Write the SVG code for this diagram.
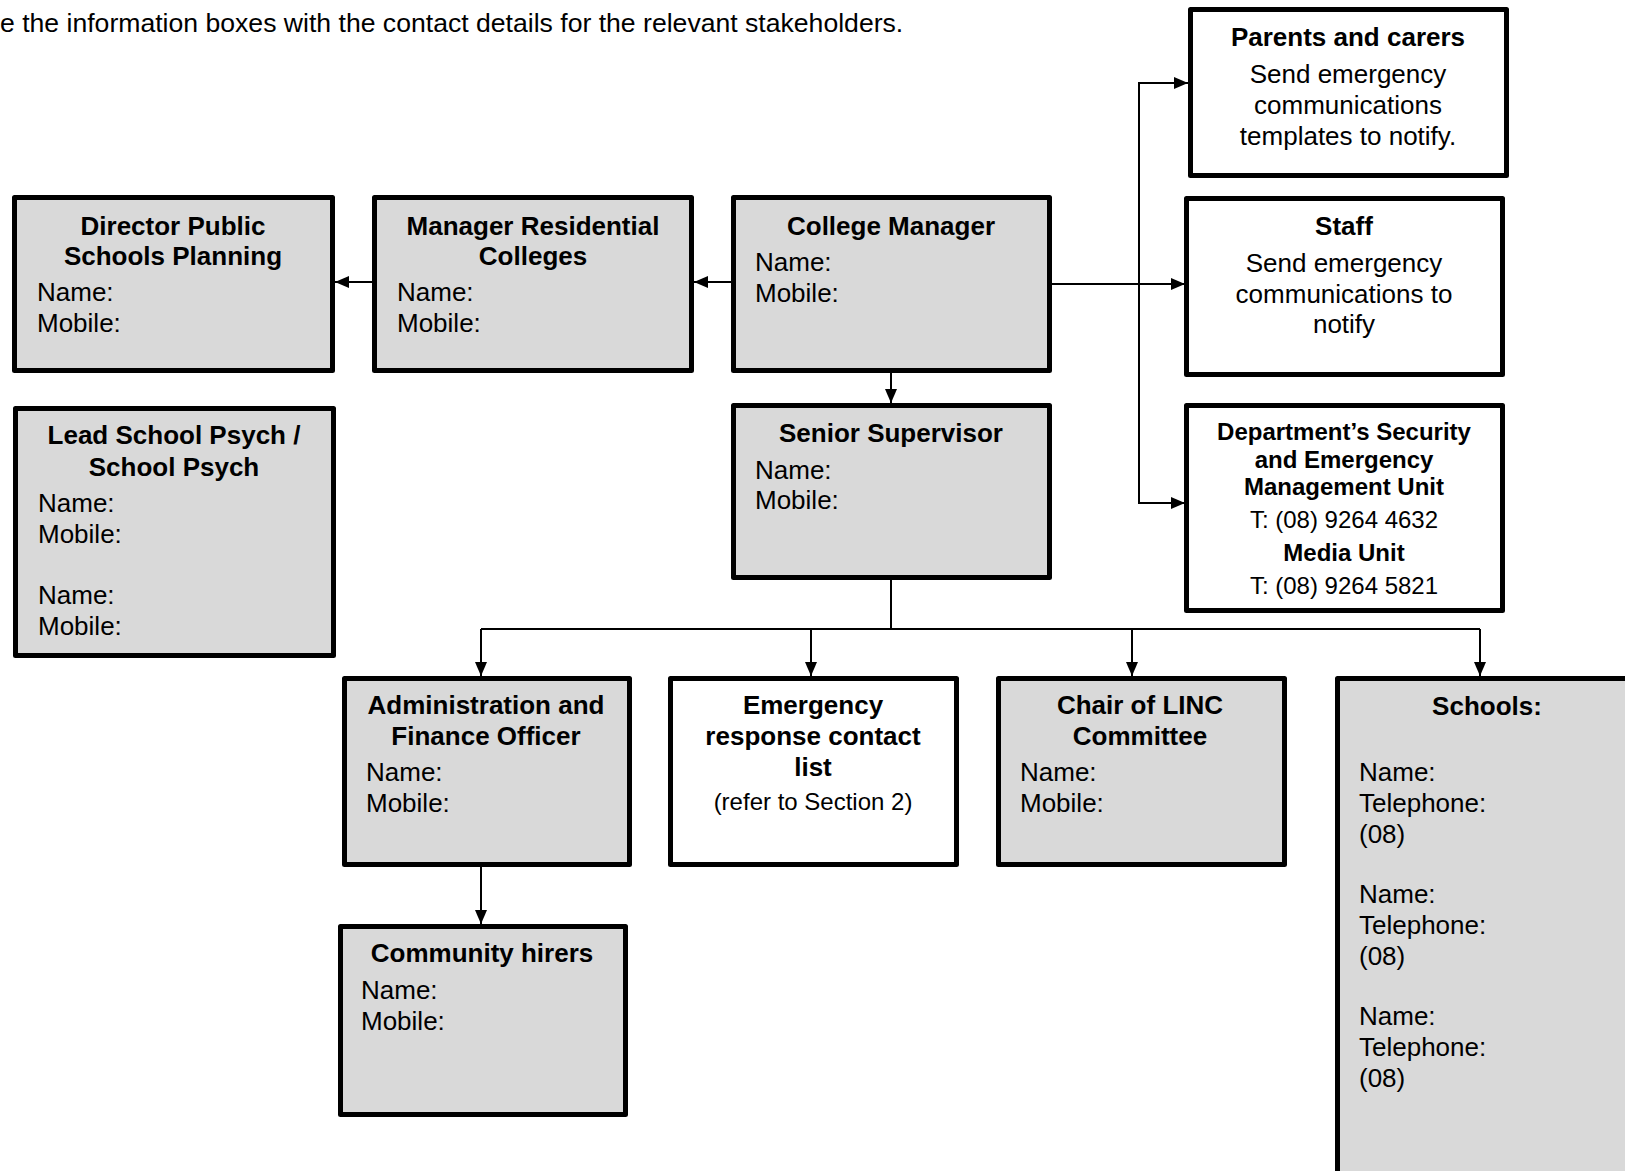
<svg xmlns="http://www.w3.org/2000/svg" width="1625" height="1171" viewBox="0 0 1625 1171">
<style>
.box{stroke:#000;stroke-width:5;stroke-linejoin:round}
.g{fill:#d9d9d9}
.w{fill:#fff}
text{font-family:"Liberation Sans",Arial,sans-serif;fill:#000}
.t{font-size:26px;font-weight:bold;text-anchor:middle}
.b{font-size:26px}
.c{font-size:26px;text-anchor:middle}
.st{font-size:24px;font-weight:bold;text-anchor:middle}
.sb{font-size:24px;text-anchor:middle}
.con{stroke:#000;stroke-width:2;fill:none}
</style>
<defs>
<marker id="ah" viewBox="0 0 14 12" refX="14" refY="6" markerWidth="14" markerHeight="12" markerUnits="userSpaceOnUse" orient="auto">
<path d="M0,0 L14,6 L0,12 Z" fill="#000"/>
</marker>
</defs>
<rect width="1625" height="1171" fill="#fff"/>
<text x="0" y="32" style="font-size:26.6px">e the information boxes with the contact details for the relevant stakeholders.</text>

<g id="connectors">
<line class="con" x1="731" y1="282" x2="694" y2="282" marker-end="url(#ah)"/>
<line class="con" x1="373" y1="282" x2="335" y2="282" marker-end="url(#ah)"/>
<line class="con" x1="1052" y1="284" x2="1185" y2="284" marker-end="url(#ah)"/>
<polyline class="con" points="1187,83 1139,83 1139,503 1185,503"/>
<line class="con" x1="1139" y1="83" x2="1188" y2="83" marker-end="url(#ah)"/>
<line class="con" x1="1139" y1="503" x2="1185" y2="503" marker-end="url(#ah)"/>
<line class="con" x1="891" y1="373" x2="891" y2="403" marker-end="url(#ah)"/>
<line class="con" x1="891" y1="580" x2="891" y2="629"/>
<line class="con" x1="481" y1="629" x2="1480" y2="629"/>
<line class="con" x1="481" y1="629" x2="481" y2="676" marker-end="url(#ah)"/>
<line class="con" x1="811" y1="629" x2="811" y2="676" marker-end="url(#ah)"/>
<line class="con" x1="1132" y1="629" x2="1132" y2="676" marker-end="url(#ah)"/>
<line class="con" x1="1480" y1="629" x2="1480" y2="676" marker-end="url(#ah)"/>
<line class="con" x1="481" y1="866" x2="481" y2="924" marker-end="url(#ah)"/>
</g>

<g id="parents">
<rect class="box w" x="1190.5" y="9.5" width="316" height="166"/>
<text class="t" x="1348" y="46">Parents and carers</text>
<text class="c" x="1348" y="83">Send emergency</text>
<text class="c" x="1348" y="114">communications</text>
<text class="c" x="1348" y="145">templates to notify.</text>
</g>

<g id="staff">
<rect class="box w" x="1186.5" y="198.5" width="316" height="176"/>
<text class="t" x="1344" y="235">Staff</text>
<text class="c" x="1344" y="272">Send emergency</text>
<text class="c" x="1344" y="303">communications to</text>
<text class="c" x="1344" y="333">notify</text>
</g>

<g id="dept">
<rect class="box w" x="1186.5" y="405.5" width="316" height="205"/>
<text class="st" x="1344" y="440">Department’s Security</text>
<text class="st" x="1344" y="468">and Emergency</text>
<text class="st" x="1344" y="495">Management Unit</text>
<text class="sb" x="1344" y="528">T: (08) 9264 4632</text>
<text class="st" x="1344" y="561">Media Unit</text>
<text class="sb" x="1344" y="594">T: (08) 9264 5821</text>
</g>

<g id="director">
<rect class="box g" x="14.5" y="197.5" width="318" height="173"/>
<text class="t" x="173" y="235">Director Public</text>
<text class="t" x="173" y="265">Schools Planning</text>
<text class="b" x="37" y="301">Name:</text>
<text class="b" x="37" y="332">Mobile:</text>
</g>

<g id="manager-rc">
<rect class="box g" x="374.5" y="197.5" width="317" height="173"/>
<text class="t" x="533" y="235">Manager Residential</text>
<text class="t" x="533" y="265">Colleges</text>
<text class="b" x="397" y="301">Name:</text>
<text class="b" x="397" y="332">Mobile:</text>
</g>

<g id="college-manager">
<rect class="box g" x="733.5" y="197.5" width="316" height="173"/>
<text class="t" x="891" y="235">College Manager</text>
<text class="b" x="755" y="271">Name:</text>
<text class="b" x="755" y="302">Mobile:</text>
</g>

<g id="senior-supervisor">
<rect class="box g" x="733.5" y="405.5" width="316" height="172"/>
<text class="t" x="891" y="442">Senior Supervisor</text>
<text class="b" x="755" y="479">Name:</text>
<text class="b" x="755" y="509">Mobile:</text>
</g>

<g id="lead-psych">
<rect class="box g" x="15.5" y="408.5" width="318" height="247"/>
<text class="t" x="174" y="444">Lead School Psych /</text>
<text class="t" x="174" y="476">School Psych</text>
<text class="b" x="38" y="512">Name:</text>
<text class="b" x="38" y="543">Mobile:</text>
<text class="b" x="38" y="604">Name:</text>
<text class="b" x="38" y="635">Mobile:</text>
</g>

<g id="admin">
<rect class="box g" x="344.5" y="678.5" width="285" height="186"/>
<text class="t" x="486" y="714">Administration and</text>
<text class="t" x="486" y="745">Finance Officer</text>
<text class="b" x="366" y="781">Name:</text>
<text class="b" x="366" y="812">Mobile:</text>
</g>

<g id="emergency">
<rect class="box w" x="670.5" y="678.5" width="286" height="186"/>
<text class="t" x="813" y="714">Emergency</text>
<text class="t" x="813" y="745">response contact</text>
<text class="t" x="813" y="776">list</text>
<text class="sb" x="813" y="810">(refer to Section 2)</text>
</g>

<g id="chair-linc">
<rect class="box g" x="998.5" y="678.5" width="286" height="186"/>
<text class="t" x="1140" y="714">Chair of LINC</text>
<text class="t" x="1140" y="745">Committee</text>
<text class="b" x="1020" y="781">Name:</text>
<text class="b" x="1020" y="812">Mobile:</text>
</g>

<g id="schools">
<rect class="box g" x="1337.5" y="678.5" width="400" height="600"/>
<text class="t" x="1487" y="715">Schools:</text>
<text class="b" x="1359" y="781">Name:</text>
<text class="b" x="1359" y="812">Telephone:</text>
<text class="b" x="1359" y="843">(08)</text>
<text class="b" x="1359" y="903">Name:</text>
<text class="b" x="1359" y="934">Telephone:</text>
<text class="b" x="1359" y="965">(08)</text>
<text class="b" x="1359" y="1025">Name:</text>
<text class="b" x="1359" y="1056">Telephone:</text>
<text class="b" x="1359" y="1087">(08)</text>
</g>

<g id="community-hirers">
<rect class="box g" x="340.5" y="926.5" width="285" height="188"/>
<text class="t" x="482" y="962">Community hirers</text>
<text class="b" x="361" y="999">Name:</text>
<text class="b" x="361" y="1030">Mobile:</text>
</g>
</svg>
